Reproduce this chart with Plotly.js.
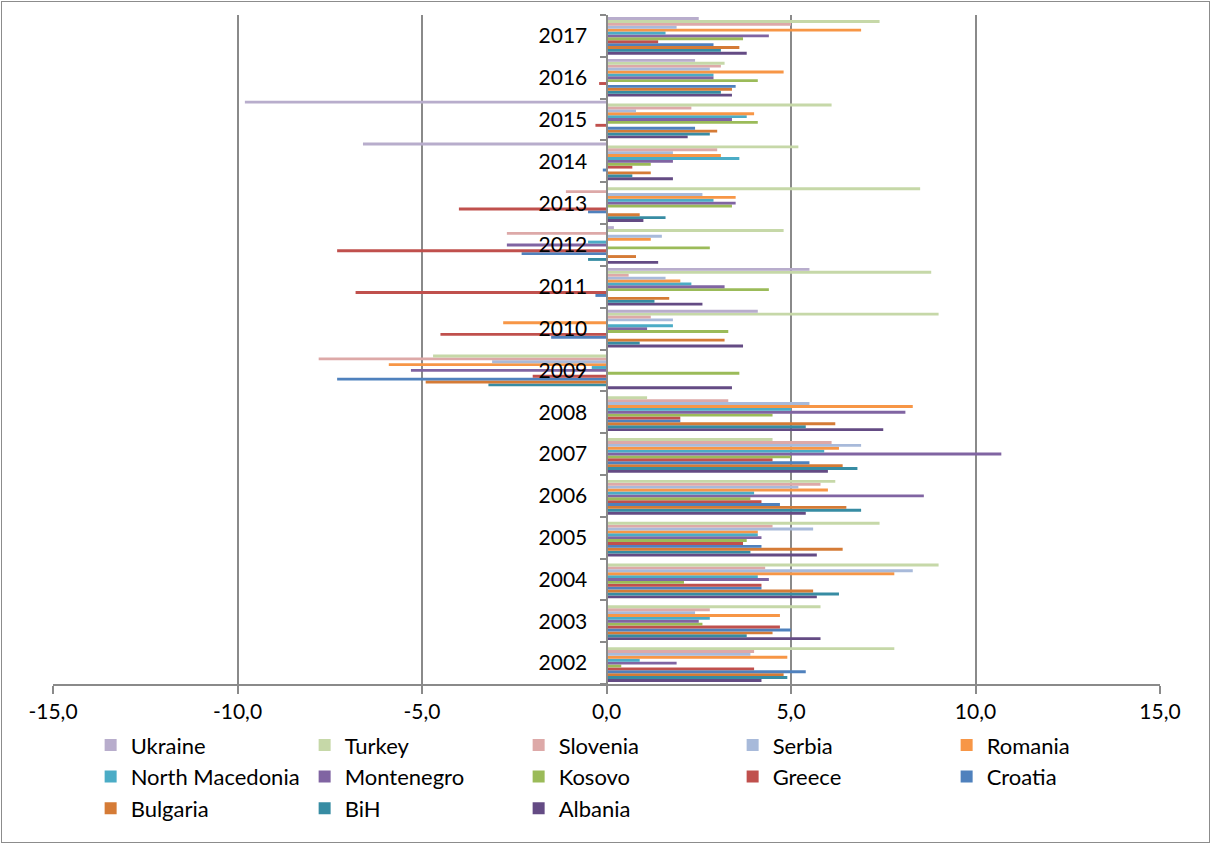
<!DOCTYPE html>
<html>
<head>
<meta charset="utf-8">
<script src="https://cdn.plot.ly/plotly-3.0.1.min.js"></script>
<style>
  html, body { margin: 0; padding: 0; background: #ffffff; }
  #wrap { position: relative; width: 1212px; height: 845px; }
  #chart { position: absolute; left: 0; top: 0; width: 1212px; height: 845px; }
  #frame { position: absolute; left: 1px; top: 1px; width: 1207px; height: 840px; border: 1.5px solid #8c8c8c; pointer-events: none; }
</style>
</head>
<body>
<div id="wrap">
  <div id="chart"></div>
  <div id="frame"></div>
</div>
<script>
// Years (category axis, bottom to top)
const years = ["2002","2003","2004","2005","2006","2007","2008","2009","2010","2011","2012","2013","2014","2015","2016","2017"];

// Series values, one per year 2002..2017
const ukraine    = [null, null, null, null, null, null, null, null, 4.1, 5.5, 0.2, 0.0, -6.6, -9.8, 2.4, 2.5];
const turkey     = [7.8, 5.8, 9.0, 7.4, 6.2, 4.5, 1.1, -4.7, 9.0, 8.8, 4.8, 8.5, 5.2, 6.1, 3.2, 7.4];
const slovenia   = [4.0, 2.8, 4.3, 4.5, 5.8, 6.1, 3.3, -7.8, 1.2, 0.6, -2.7, -1.1, 3.0, 2.3, 3.1, 5.0];
const serbia     = [3.9, 2.4, 8.3, 5.6, 5.2, 6.9, 5.5, -3.1, 1.8, 1.6, 1.5, 2.6, 1.8, 0.8, 2.8, 1.9];
const romania    = [4.9, 4.7, 7.8, 4.1, 6.0, 6.3, 8.3, -5.9, -2.8, 2.0, 1.2, 3.5, 3.1, 4.0, 4.8, 6.9];
const northMacedonia = [0.9, 2.8, 4.1, 4.1, 4.0, 5.9, 5.0, -0.4, 1.8, 2.3, -0.5, 2.9, 3.6, 3.8, 2.9, 1.6];
const montenegro = [1.9, 2.5, 4.4, 4.2, 8.6, 10.7, 8.1, -5.3, 1.1, 3.2, -2.7, 3.5, 1.8, 3.4, 2.9, 4.4];
const kosovo     = [0.4, 2.6, 2.1, 3.8, 3.9, 5.0, 4.5, 3.6, 3.3, 4.4, 2.8, 3.4, 1.2, 4.1, 4.1, 3.7];
const greece     = [4.0, 4.7, 4.2, 3.7, 4.2, 4.5, 2.0, -2.0, -4.5, -6.8, -7.3, -4.0, 0.7, -0.3, -0.2, 1.4];
const croatia    = [5.4, 5.0, 4.2, 4.2, 4.7, 5.5, 2.0, -7.3, -1.5, -0.3, -2.3, -0.5, -0.1, 2.4, 3.5, 2.9];
const bulgaria   = [4.8, 4.5, 5.6, 6.4, 6.5, 6.4, 6.2, -4.9, 3.2, 1.7, 0.8, 0.9, 1.2, 3.0, 3.4, 3.6];
const bih        = [4.9, 3.8, 6.3, 3.9, 6.9, 6.8, 5.4, -3.2, 0.9, 1.3, -0.5, 1.6, 0.7, 2.8, 3.1, 3.1];
const albania    = [4.2, 5.8, 5.7, 5.7, 5.4, 6.0, 7.5, 3.4, 3.7, 2.6, 1.4, 1.0, 1.8, 2.2, 3.4, 3.8];

// Value-axis ticks
const xTickVals = [-15, -10, -5, 0, 5, 10, 15];
const xTickText = ["-15,0", "-10,0", "-5,0", "0,0", "5,0", "10,0", "15,0"];

// Series (bottom of each group first)
const seriesNames = ["Albania", "BiH", "Bulgaria", "Croatia", "Greece", "Kosovo", "Montenegro", "North Macedonia", "Romania", "Serbia", "Slovenia", "Turkey", "Ukraine"];
const seriesData  = [albania, bih, bulgaria, croatia, greece, kosovo, montenegro, northMacedonia, romania, serbia, slovenia, turkey, ukraine];
const seriesColors = ["#644B84", "#378CA3", "#D57B36", "#4F81BD", "#C0504D", "#9BBB59", "#8064A2", "#4BACC6", "#F79646", "#A8BADA", "#DDA9A8", "#C6D8A8", "#B8ADCC"];

const traces = seriesNames.map((name, i) => ({
  type: "bar",
  orientation: "h",
  name: name,
  y: years,
  x: seriesData[i],
  marker: { color: seriesColors[i], line: { width: 0 } },
  hoverinfo: "name+x+y"
}));

const font = "Lato, 'Open Sans', 'DejaVu Sans', sans-serif";
const gray = "#8a8a8a";

const layout = {
  width: 1212,
  height: 845,
  margin: { l: 53, r: 52, t: 15, b: 161 },
  paper_bgcolor: "#ffffff",
  plot_bgcolor: "#ffffff",
  barmode: "group",
  bargap: 0.1,
  bargroupgap: 0,
  showlegend: true,
  font: { family: font, size: 21, color: "#000000" },
  xaxis: {
    range: [-15, 15],
    tickmode: "array",
    tickvals: xTickVals,
    ticktext: xTickText,
    showgrid: true,
    gridcolor: gray,
    gridwidth: 2,
    zeroline: false,
    showline: true,
    linecolor: gray,
    linewidth: 2,
    ticks: "outside",
    ticklen: 8,
    tickwidth: 2,
    tickcolor: gray,
    tickfont: { family: font, size: 21, color: "#000000" },
    fixedrange: true
  },
  yaxis: {
    type: "category",
    categoryorder: "array",
    categoryarray: years,
    anchor: "free",
    position: 0.5,
    showgrid: false,
    zeroline: false,
    showline: true,
    linecolor: gray,
    linewidth: 2,
    ticks: "outside",
    tickson: "boundaries",
    ticklen: 6,
    tickwidth: 2,
    tickcolor: gray,
    ticklabelstandoff: 14,
    tickfont: { family: font, size: 21, color: "#000000" },
    fixedrange: true
  },
  legend: {
    orientation: "h",
    traceorder: "reversed",
    x: 0.034,
    xanchor: "left",
    y: -0.06,
    yanchor: "top",
    entrywidth: 169,
    entrywidthmode: "pixels",
    font: { family: font, size: 22, color: "#000000" },
    bgcolor: "rgba(0,0,0,0)",
    itemclick: false,
    itemdoubleclick: false
  }
};

Plotly.newPlot("chart", traces, layout, { displayModeBar: false, staticPlot: true });
</script>
</body>
</html>
